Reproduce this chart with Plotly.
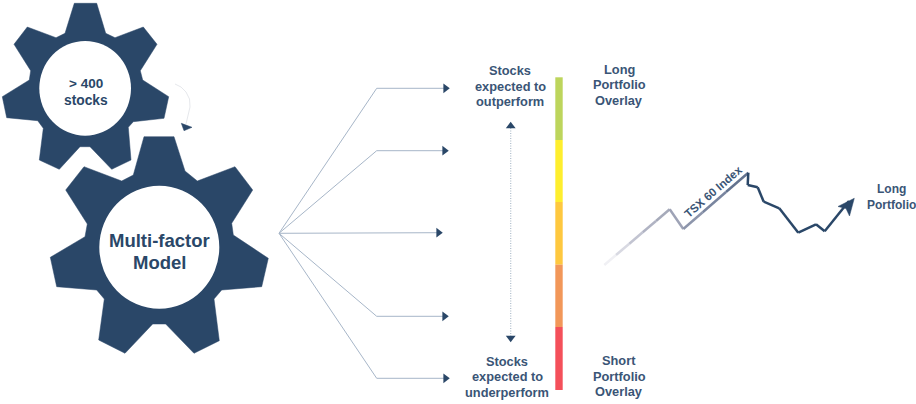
import plotly.graph_objects as go

NAVY = "#2a4768"
TEXT = "#3a5576"
THIN = "#a7b6c8"

gear_small_x = [74.3, 96.7, 105.7, 115, 143.3, 157, 140.3, 142.7, 168.7, 164, 133.3, 128.3, 131, 111.7, 90, 80, 59.3, 39.3, 43.3, 37.7, 6.7, 2.3, 29.3, 30.7, 14, 27.3, 56, 65]
gear_small_y = [3.3, 3.3, 33.3, 37.7, 27, 44.3, 70.7, 80, 96.7, 118.3, 121.7, 127.3, 160, 169.3, 146.7, 146.7, 169.3, 160, 128.3, 120.7, 117.7, 96.7, 80, 70.7, 44.3, 27, 37.7, 33.3]

gear_big_x = [144, 174, 185, 197.3, 235, 252.7, 231.7, 233.3, 268.3, 261.7, 221.7, 214, 219.3, 194, 165.7, 152.7, 125, 98.7, 104.3, 96.7, 56.7, 50.3, 85, 87.3, 65.7, 84, 121.7, 133.3]
gear_big_y = [136.7, 136.7, 171, 181, 166.7, 190, 223.3, 235, 258.3, 286.7, 290, 299, 340.7, 353.3, 324, 324, 353.3, 340, 299, 290, 286.7, 257.3, 236.7, 224, 190, 166.7, 181, 175]

hub_small = dict(x0=39.3, x1=131, y0=41, y1=135.7)
hub_big = dict(x0=99.3, x1=219.3, y0=185.7, y1=308.7)

fan_origin = (279, 233.3)
fan_elbow_x = [376.7, 376.7, None, 376.7, 376.7]
fan_y = [88.3, 150.7, 232.7, 316.3, 378.3]
fan_tip_x = [445.5, 444.5, 438.5, 444.5, 445.5]

scale_base = [77.3, 140, 202, 264.7, 327]
scale_len = [62.7, 62, 62.7, 62.3, 63]
scale_colors = ["#bdd55c", "#feee2e", "#fec83f", "#f29759", "#f4505a"]

index_x = [604.3, 616, 629.3, 642.7, 656, 669.7, 683.3, 702.7, 726, 748.3, 747.7, 757.7, 763.7, 779.3, 798.3, 816, 824.7, 849]
index_y = [265, 255, 243.7, 232.3, 221, 209.3, 229, 212.3, 192, 172.7, 185, 187.3, 201.7, 208.3, 232.7, 224.3, 231.3, 201]
index_colors = ["#f0f0f4", "#d8d9e2", "#c2c4d1", "#b0b3c3", "#a6aaba", "#9ea3b6", "#8d95ab", "#79859f", "#63738f"] + [NAVY] * 8

index_head_x = [854.3, 838, 846, 849.5]
index_head_y = [198.3, 206.5, 208.5, 216]

curve_x = [175, 181, 186, 189.5, 190, 188, 186]
curve_y = [84, 87, 92, 99, 107, 116, 124]
curve_head_x = [181.3, 192, 184]
curve_head_y = [123.3, 127.3, 130.7]

labels = [
    ("> 400", 85.5, 83.5, 13.5, NAVY), ("stocks", 85.5, 100.5, 13.8, NAVY),
    ("Multi-factor", 159.5, 240, 18.5, NAVY), ("Model", 159.5, 262, 18.5, NAVY),
    ("Stocks", 510, 70.5, 12.8, TEXT), ("expected to", 510, 86, 12.8, TEXT), ("outperform", 510, 101.5, 12.8, TEXT),
    ("Long", 619, 69, 12.8, TEXT), ("Portfolio", 619, 84.5, 12.8, TEXT), ("Overlay", 619, 100, 12.8, TEXT),
    ("Stocks", 507, 361, 12.8, TEXT), ("expected to", 507, 376.5, 12.8, TEXT), ("underperform", 507, 392.5, 12.8, TEXT),
    ("Short", 619, 360.5, 12.8, TEXT), ("Portfolio", 619, 376, 12.8, TEXT), ("Overlay", 619, 391.5, 12.8, TEXT),
    ("Long", 891, 189, 12, TEXT), ("Portfolio", 891, 204.5, 12, TEXT),
]

fig = go.Figure()

for gx, gy in [(gear_small_x, gear_small_y), (gear_big_x, gear_big_y)]:
    fig.add_trace(go.Scatter(x=gx + gx[:1], y=gy + gy[:1], mode="lines", fill="toself",
                             fillcolor=NAVY, line=dict(color=NAVY, width=0.5)))

fig.add_trace(go.Scatter(x=curve_x, y=curve_y, mode="lines", line=dict(color="#e6e8ec", width=1)))
fig.add_trace(go.Scatter(x=curve_head_x + curve_head_x[:1], y=curve_head_y + curve_head_y[:1], mode="lines",
                         fill="toself", fillcolor=NAVY, line=dict(color=NAVY, width=0.5)))

for ex, y, tip in zip(fan_elbow_x, fan_y, fan_tip_x):
    xs = [fan_origin[0]] + ([ex] if ex is not None else []) + [tip]
    ys = [fan_origin[1]] + ([y] if ex is not None else []) + [y]
    fig.add_trace(go.Scatter(x=xs, y=ys, mode="lines", line=dict(color=THIN, width=1)))
fig.add_trace(go.Scatter(x=fan_tip_x, y=fan_y, mode="markers",
                         marker=dict(symbol="triangle-right", size=8.5, color=NAVY)))

fig.add_trace(go.Scatter(x=[510.7, 510.7], y=[128, 336], mode="lines",
                         line=dict(color="#aebccb", width=1.2, dash="1px 1.5px")))
fig.add_trace(go.Scatter(x=[510.7, 510.7], y=[126, 338], mode="markers",
                         marker=dict(symbol=["triangle-up", "triangle-down"], size=8.5, color=NAVY)))

fig.add_trace(go.Bar(x=[559] * 5, y=scale_len, base=scale_base, width=7.4,
                     marker=dict(color=scale_colors, line=dict(width=0))))

for i, c in enumerate(index_colors):
    fig.add_trace(go.Scatter(x=index_x[i:i + 2], y=index_y[i:i + 2], mode="lines",
                             line=dict(color=c, width=2.5)))
fig.add_trace(go.Scatter(x=index_head_x + index_head_x[:1], y=index_head_y + index_head_y[:1], mode="lines",
                         fill="toself", fillcolor=NAVY, line=dict(color=NAVY, width=0.5)))

shapes = [dict(type="circle", xref="x", yref="y", fillcolor="white", line=dict(width=0), layer="above", **h)
          for h in (hub_small, hub_big)]

annotations = [dict(x=x, y=y, text=f"<b>{t}</b>", showarrow=False, xanchor="center", yanchor="middle",
                    font=dict(size=s, color=c, family="Liberation Sans"))
               for t, x, y, s, c in labels]
annotations.append(dict(x=712.7, y=191.5, text="<b>TSX 60 Index</b>", showarrow=False, textangle=-41,
                        font=dict(size=11.5, color=TEXT, family="Liberation Sans")))

fig.update_layout(
    width=916, height=404, margin=dict(l=0, r=0, t=0, b=0),
    paper_bgcolor="white", plot_bgcolor="white", showlegend=False, barmode="overlay",
    xaxis=dict(range=[0, 916], visible=False, fixedrange=True),
    yaxis=dict(range=[404, 0], visible=False, fixedrange=True),
    shapes=shapes, annotations=annotations,
)

fig.write_html("out.html", config=dict(displayModeBar=False),
               post_script="document.body.style.margin='0';document.body.style.overflow='hidden';")
